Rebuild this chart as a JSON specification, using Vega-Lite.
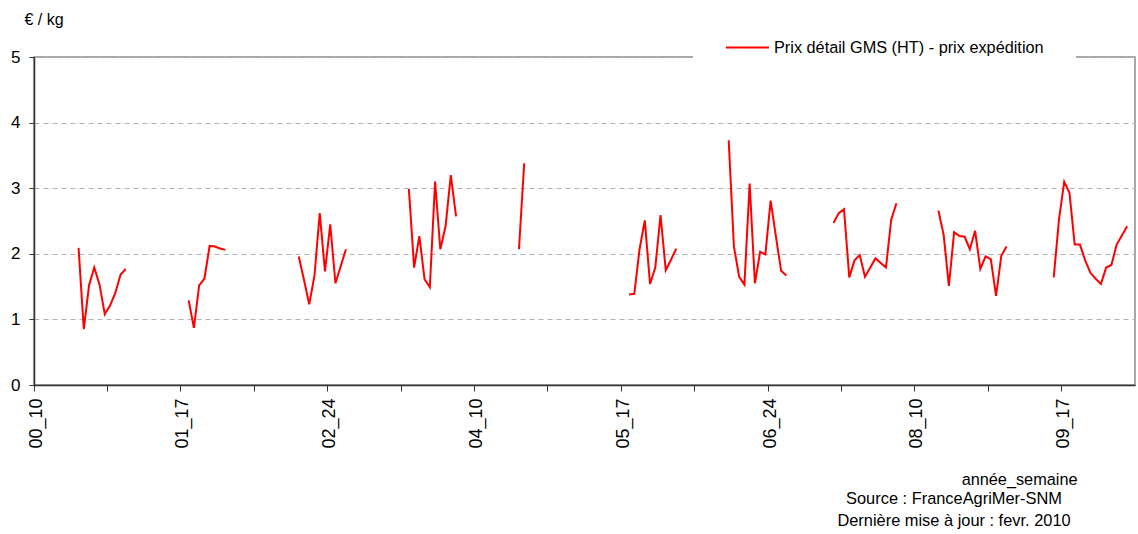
{
"$schema": "https://vega.github.io/schema/vega-lite/v6.json",
"width": 1101, "height": 328,
"autosize": {"type": "none"},
"padding": {"left": 34, "top": 57, "right": 3, "bottom": 149},
"background": "white",
"config": {"font": "Liberation Sans", "view": {"stroke": "#8c8c8c", "strokeWidth": 1.5}},
"title": {"text": "Source : FranceAgriMer-SNM", "subtitle": "Dernière mise à jour : fevr. 2010", "orient": "bottom", "anchor": "end", "align": "center", "dx": -181, "fontSize": 16.4, "fontWeight": "normal", "color": "#000", "subtitleFontSize": 16.4, "subtitleColor": "#000", "subtitlePadding": 5, "offset": 4, "font": "Liberation Sans", "subtitleFont": "Liberation Sans"},
"data": {"values": [
{"semaine":"00_10","prix":null},{"semaine":"00_11","prix":null},{"semaine":"00_12","prix":null},{"semaine":"00_13","prix":null},{"semaine":"00_14","prix":null},{"semaine":"00_15","prix":null},{"semaine":"00_16","prix":null},{"semaine":"00_17","prix":null},{"semaine":"00_18","prix":2.09},{"semaine":"00_19","prix":0.85},{"semaine":"00_20","prix":1.52},{"semaine":"00_21","prix":1.79},{"semaine":"00_22","prix":1.53},{"semaine":"00_23","prix":1.08},{"semaine":"00_24","prix":1.21},{"semaine":"00_25","prix":1.40},{"semaine":"00_26","prix":1.68},{"semaine":"00_27","prix":1.77},{"semaine":"00_28","prix":null},{"semaine":"00_29","prix":null},{"semaine":"00_30","prix":null},
{"semaine":"01_10","prix":null},{"semaine":"01_11","prix":null},{"semaine":"01_12","prix":null},{"semaine":"01_13","prix":null},{"semaine":"01_14","prix":null},{"semaine":"01_15","prix":null},{"semaine":"01_16","prix":null},{"semaine":"01_17","prix":null},{"semaine":"01_18","prix":1.29},{"semaine":"01_19","prix":0.87},{"semaine":"01_20","prix":1.52},{"semaine":"01_21","prix":1.62},{"semaine":"01_22","prix":2.12},{"semaine":"01_23","prix":2.11},{"semaine":"01_24","prix":2.08},{"semaine":"01_25","prix":2.06},{"semaine":"01_26","prix":null},{"semaine":"01_27","prix":null},{"semaine":"01_28","prix":null},{"semaine":"01_29","prix":null},{"semaine":"01_30","prix":null},
{"semaine":"02_10","prix":null},{"semaine":"02_11","prix":null},{"semaine":"02_12","prix":null},{"semaine":"02_13","prix":null},{"semaine":"02_14","prix":null},{"semaine":"02_15","prix":null},{"semaine":"02_16","prix":null},{"semaine":"02_17","prix":null},{"semaine":"02_18","prix":1.96},{"semaine":"02_19","prix":1.60},{"semaine":"02_20","prix":1.23},{"semaine":"02_21","prix":1.67},{"semaine":"02_22","prix":2.62},{"semaine":"02_23","prix":1.73},{"semaine":"02_24","prix":2.45},{"semaine":"02_25","prix":1.55},{"semaine":"02_26","prix":1.81},{"semaine":"02_27","prix":2.07},{"semaine":"02_28","prix":null},{"semaine":"02_29","prix":null},{"semaine":"02_30","prix":null},
{"semaine":"03_10","prix":null},{"semaine":"03_11","prix":null},{"semaine":"03_12","prix":null},{"semaine":"03_13","prix":null},{"semaine":"03_14","prix":null},{"semaine":"03_15","prix":null},{"semaine":"03_16","prix":null},{"semaine":"03_17","prix":null},{"semaine":"03_18","prix":2.99},{"semaine":"03_19","prix":1.79},{"semaine":"03_20","prix":2.27},{"semaine":"03_21","prix":1.61},{"semaine":"03_22","prix":1.49},{"semaine":"03_23","prix":3.10},{"semaine":"03_24","prix":2.07},{"semaine":"03_25","prix":2.42},{"semaine":"03_26","prix":3.20},{"semaine":"03_27","prix":2.57},{"semaine":"03_28","prix":null},{"semaine":"03_29","prix":null},{"semaine":"03_30","prix":null},
{"semaine":"04_10","prix":null},{"semaine":"04_11","prix":null},{"semaine":"04_12","prix":null},{"semaine":"04_13","prix":null},{"semaine":"04_14","prix":null},{"semaine":"04_15","prix":null},{"semaine":"04_16","prix":null},{"semaine":"04_17","prix":null},{"semaine":"04_18","prix":2.07},{"semaine":"04_19","prix":3.38},{"semaine":"04_20","prix":null},{"semaine":"04_21","prix":null},{"semaine":"04_22","prix":null},{"semaine":"04_23","prix":null},{"semaine":"04_24","prix":null},{"semaine":"04_25","prix":null},{"semaine":"04_26","prix":null},{"semaine":"04_27","prix":null},{"semaine":"04_28","prix":null},{"semaine":"04_29","prix":null},{"semaine":"04_30","prix":null},
{"semaine":"05_10","prix":null},{"semaine":"05_11","prix":null},{"semaine":"05_12","prix":null},{"semaine":"05_13","prix":null},{"semaine":"05_14","prix":null},{"semaine":"05_15","prix":null},{"semaine":"05_16","prix":null},{"semaine":"05_17","prix":null},{"semaine":"05_18","prix":1.38},{"semaine":"05_19","prix":1.39},{"semaine":"05_20","prix":2.07},{"semaine":"05_21","prix":2.51},{"semaine":"05_22","prix":1.54},{"semaine":"05_23","prix":1.79},{"semaine":"05_24","prix":2.59},{"semaine":"05_25","prix":1.75},{"semaine":"05_26","prix":1.91},{"semaine":"05_27","prix":2.08},{"semaine":"05_28","prix":null},{"semaine":"05_29","prix":null},{"semaine":"05_30","prix":null},
{"semaine":"06_10","prix":null},{"semaine":"06_11","prix":null},{"semaine":"06_12","prix":null},{"semaine":"06_13","prix":null},{"semaine":"06_14","prix":null},{"semaine":"06_15","prix":null},{"semaine":"06_16","prix":3.73},{"semaine":"06_17","prix":2.11},{"semaine":"06_18","prix":1.65},{"semaine":"06_19","prix":1.53},{"semaine":"06_20","prix":3.07},{"semaine":"06_21","prix":1.55},{"semaine":"06_22","prix":2.03},{"semaine":"06_23","prix":1.99},{"semaine":"06_24","prix":2.81},{"semaine":"06_25","prix":2.27},{"semaine":"06_26","prix":1.74},{"semaine":"06_27","prix":1.67},{"semaine":"06_28","prix":null},{"semaine":"06_29","prix":null},{"semaine":"06_30","prix":null},
{"semaine":"07_10","prix":null},{"semaine":"07_11","prix":null},{"semaine":"07_12","prix":null},{"semaine":"07_13","prix":null},{"semaine":"07_14","prix":null},{"semaine":"07_15","prix":2.47},{"semaine":"07_16","prix":2.62},{"semaine":"07_17","prix":2.68},{"semaine":"07_18","prix":1.64},{"semaine":"07_19","prix":1.90},{"semaine":"07_20","prix":1.98},{"semaine":"07_21","prix":1.65},{"semaine":"07_22","prix":1.79},{"semaine":"07_23","prix":1.93},{"semaine":"07_24","prix":1.86},{"semaine":"07_25","prix":1.79},{"semaine":"07_26","prix":2.52},{"semaine":"07_27","prix":2.77},{"semaine":"07_28","prix":null},{"semaine":"07_29","prix":null},{"semaine":"07_30","prix":null},
{"semaine":"08_10","prix":null},{"semaine":"08_11","prix":null},{"semaine":"08_12","prix":null},{"semaine":"08_13","prix":null},{"semaine":"08_14","prix":2.66},{"semaine":"08_15","prix":2.29},{"semaine":"08_16","prix":1.51},{"semaine":"08_17","prix":2.33},{"semaine":"08_18","prix":2.27},{"semaine":"08_19","prix":2.26},{"semaine":"08_20","prix":2.07},{"semaine":"08_21","prix":2.35},{"semaine":"08_22","prix":1.77},{"semaine":"08_23","prix":1.96},{"semaine":"08_24","prix":1.92},{"semaine":"08_25","prix":1.36},{"semaine":"08_26","prix":1.97},{"semaine":"08_27","prix":2.11},{"semaine":"08_28","prix":null},{"semaine":"08_29","prix":null},{"semaine":"08_30","prix":null},
{"semaine":"09_10","prix":null},{"semaine":"09_11","prix":null},{"semaine":"09_12","prix":null},{"semaine":"09_13","prix":null},{"semaine":"09_14","prix":null},{"semaine":"09_15","prix":1.64},{"semaine":"09_16","prix":2.52},{"semaine":"09_17","prix":3.10},{"semaine":"09_18","prix":2.93},{"semaine":"09_19","prix":2.14},{"semaine":"09_20","prix":2.14},{"semaine":"09_21","prix":1.90},{"semaine":"09_22","prix":1.71},{"semaine":"09_23","prix":1.62},{"semaine":"09_24","prix":1.54},{"semaine":"09_25","prix":1.79},{"semaine":"09_26","prix":1.83},{"semaine":"09_27","prix":2.14},{"semaine":"09_28","prix":2.28},{"semaine":"09_29","prix":2.42},{"semaine":"09_30","prix":null}
]},
"mark": {"type": "line", "strokeWidth": 2},
"encoding": {
  "x": {"field": "semaine", "type": "ordinal", "sort": null, "bandPosition": 0.5,
    "scale": {"type": "band", "paddingInner": 0, "paddingOuter": 0},
    "axis": {"values": ["00_10","00_24","01_17","02_10","02_24","03_17","04_10","04_24","05_17","06_10","06_24","07_17","08_10","08_24","09_17"],
      "labelExpr": "indexof(['00_10','01_17','02_24','04_10','05_17','06_24','08_10','09_17'], datum.value) >= 0 ? datum.value : ''",
      "labelAngle": -90, "labelFontSize": 18, "labelColor": "#000", "labelPadding": 7, "labelOverlap": false,
      "tickSize": 6, "tickColor": "#333", "domainColor": "#333", "domainWidth": 1.5, "bandPosition": 0, "grid": false,
      "title": "année_semaine", "titleFontSize": 16.3, "titleFontWeight": "normal", "titleColor": "#000",
      "titleX": 1043, "titleY": 94, "titleAlign": "right", "titleBaseline": "middle", "titleAnchor": null}},
  "y": {"field": "prix", "type": "quantitative", "scale": {"domain": [0, 5]},
    "axis": {"values": [0,1,2,3,4,5], "grid": true, "gridDash": [5,4], "gridColor": "#b3b3b3",
      "labelFontSize": 17, "labelColor": "#000", "labelPadding": 9, "tickSize": 5, "tickColor": "#333", "domainColor": "#333", "domainWidth": 1.5,
      "title": "€ / kg", "titleAngle": 0, "titleAlign": "left", "titleX": -10, "titleY": -38, "titleFontSize": 16, "titleFontWeight": "normal", "titleColor": "#000", "titleBaseline": "middle"}},
  "color": {"datum": "Prix détail GMS (HT) - prix expédition", "scale": {"range": ["#ff0000"]},
    "legend": {"title": null, "orient": "none", "legendX": 659, "legendY": -64, "fillColor": "white", "padding": 32,
      "symbolType": "stroke", "symbolSize": 1849, "symbolStrokeWidth": 2, "symbolOffset": 0, "labelOffset": 4,
      "labelFontSize": 16.3, "labelColor": "#000", "labelLimit": 400}}
}
}
